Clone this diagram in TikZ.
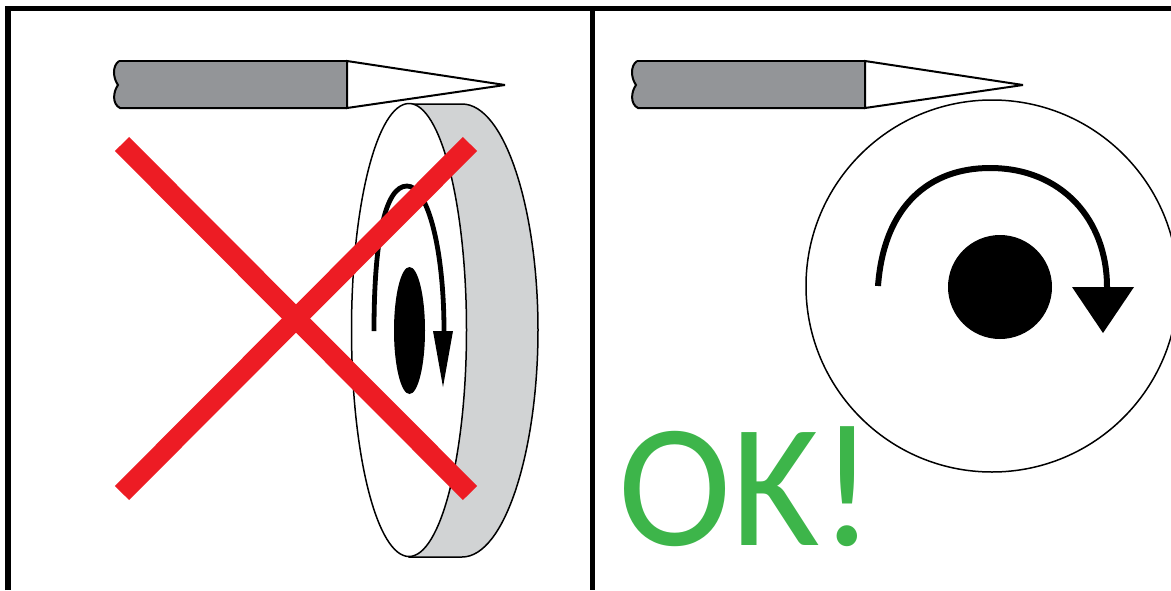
\documentclass[tikz,border=0pt]{standalone}
\usepackage{fontspec}
\setmainfont{Carlito}
\usepackage{tikz}
\definecolor{penbody}{RGB}{147,149,152}
\definecolor{wheelrim}{RGB}{209,211,212}
\definecolor{crossred}{RGB}{237,28,36}
\definecolor{okgreen}{RGB}{61,181,74}

\begin{document}
\begin{tikzpicture}[
    x=1pt, y=-1pt,
    frameline/.style={draw=black, line width=5.5pt},
    outline/.style={draw=black, line width=2pt},
    thinline/.style={draw=black, line width=1.5pt},
    turnline/.style={draw=black, line width=4.8pt},
    crossbar/.style={draw=crossred, line width=20pt},
    oktext/.style={text=okgreen, inner sep=0pt, anchor=base west, xscale=0.97, font=\fontsize{176}{176}\selectfont}
]
\useasboundingbox (0,0) rectangle (1171,590);

\coordinate (frametl) at (8,590);
\coordinate (frametop) at (8,8.5);
\coordinate (frametr) at (1171,8.5);
\coordinate (midtop) at (592.5,8.5);
\coordinate (midbot) at (592.5,590);
\draw[frameline] (frametl) -- (frametop) -- (frametr);
\draw[frameline] (midtop) -- (midbot);

\foreach \dx in {0,518} {
  \begin{scope}[xshift=\dx pt]
    \fill[penbody] (119,61) .. controls (112,66) and (113,78) .. (118,85) .. controls (113,92) and (112,104) .. (120,108) -- (347,108) -- (347,61) -- cycle;
    \draw[outline] (119,61) .. controls (112,66) and (113,78) .. (118,85) .. controls (113,92) and (112,104) .. (120,108) -- (347,108);
    \draw[outline] (119,61) -- (347,61);
    \draw[outline, fill=white, miter limit=6] (347,61) -- (505,85) -- (347,108) -- cycle;
  \end{scope}
}

\draw[thinline, fill=wheelrim] (409,104) -- (462,104) .. controls (505,104) and (538,210) .. (538,330) .. controls (538,450) and (505,557) .. (462,557) -- (409,557) -- cycle;
\draw[thinline, fill=white] (409,330) ellipse [x radius=57.5pt, y radius=226.5pt];
\fill[black] (409.5,330.5) ellipse [x radius=15.5pt, y radius=63.5pt];
\draw[turnline] (374,331) .. controls (374,240) and (385,186) .. (407,186) .. controls (428,186) and (444,250) .. (444,331);
\fill[black] (433,331) -- (453,331) -- (443,387) -- cycle;

\coordinate (crosstl) at (122,144);
\coordinate (crossbr) at (470,493);
\coordinate (crosstr) at (470,144);
\coordinate (crossbl) at (122,493);
\draw[crossbar] (crosstl) -- (crossbr);
\draw[crossbar] (crosstr) -- (crossbl);

\draw[thinline] (992,286) circle [radius=186pt];
\fill[black] (1000,287) circle [radius=52pt];
\draw[turnline, line width=6pt] (878,286) .. controls (884,205) and (930,168) .. (990,168) .. controls (1062,168) and (1107,220) .. (1107,287);
\fill[black] (1072,287) -- (1134,287) -- (1103,333) -- cycle;

\node[oktext] (oklabel) at (618,545) {OK!};
\end{tikzpicture}
\end{document}
